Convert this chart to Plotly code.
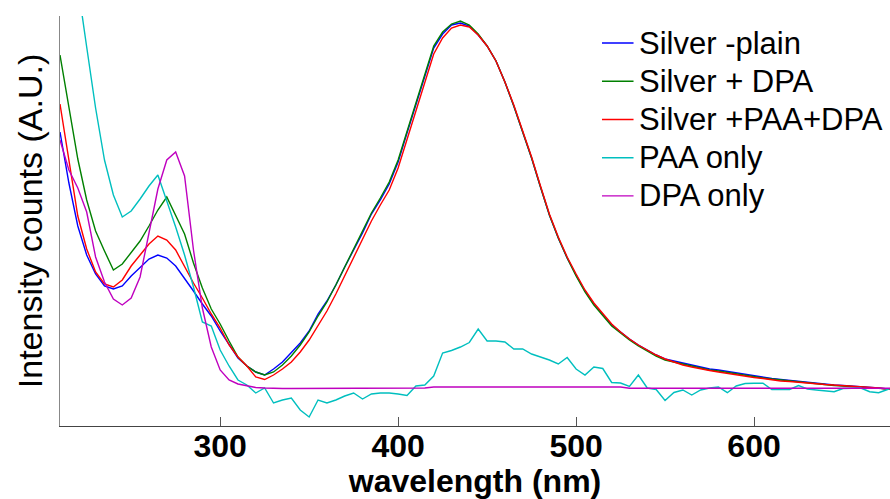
import plotly.graph_objects as go

# Wavelength grid (nm), 5 nm steps
wavelength = list(range(210, 685, 5))

# Intensity counts (A.U.) for each sample
silver_plain = [
    294, 243, 200, 171, 152, 140, 137, 140, 150, 158, 167, 171, 168, 160, 148, 135,
    122, 110, 95, 81, 68, 60, 54, 51, 57, 64, 73, 83, 95, 112, 125, 141,
    159, 176, 193, 212, 226, 242, 264, 293, 322, 350, 378, 392, 401, 403, 400, 391,
    380, 365, 344, 320, 295, 268, 239, 211, 188, 168, 151, 135, 122, 111, 101, 94,
    87, 81, 76, 71, 67, 65, 63, 61, 59, 57, 56, 54.5, 53, 51.5, 50, 48.5,
    47.5, 46.5, 45.5, 44.5, 44, 43, 42, 41, 40.5, 40, 39.5, 39, 38, 37, 36.5,
]
silver_dpa = [
    371, 318, 267, 226, 195, 175, 156, 162, 174, 185, 200, 216, 229, 210, 192, 163,
    138, 117, 102, 85, 69, 60, 54, 51, 54, 61, 70, 81, 94, 110, 124, 141,
    159, 176, 194, 213, 228, 244, 266, 295, 324, 352, 380, 394, 402, 405, 401, 392,
    380, 365, 344, 320, 295, 268, 239, 211, 188, 168, 150, 134, 121, 110, 100, 93,
    86, 80, 75, 70, 66, 64, 62, 60, 58, 56, 55, 53.5, 52, 50.5, 49, 48,
    47, 46, 45, 44, 43, 42, 41, 40.5, 40, 39.5, 39, 38.5, 38, 37, 36.5,
]
silver_paa_dpa = [
    322, 264, 210, 177, 154, 142, 139, 146, 160, 171, 182, 190, 186, 176, 159, 143,
    128, 112, 98, 81, 69, 60, 49, 46.5, 51, 57, 64, 74, 86, 100, 115, 132,
    150, 168, 186, 205, 221, 236, 258, 286, 315, 344, 372, 388, 398, 401, 399, 391,
    380, 365, 344, 321, 296, 269, 240, 212, 189, 169, 152, 136, 123, 112, 102, 94,
    87, 81, 76, 71, 67, 64, 61, 59, 57, 55.5, 54, 52.5, 51, 49.5, 48.5, 47.5,
    46, 45, 44.5, 44, 43, 42.3, 41.5, 41, 40.5, 40, 39.3, 38.7, 38, 37, 36.5,
]
paa_only = [
    581, 510, 441, 379, 318, 266, 231, 209, 215, 227, 240, 251, 226, 199, 171, 139,
    104, 100, 76, 60, 46, 41, 33, 38, 23, 26, 28, 16, 9, 26, 23, 26,
    30, 33, 27, 32, 33, 33, 32, 30.5, 40, 41, 50, 73, 75.5, 79, 83.5, 97,
    85, 85, 84, 77, 77, 72, 69, 66, 62, 68.5, 57, 51, 59, 57.5, 43.5, 43,
    39.5, 51, 38, 36.5, 25.5, 33.5, 36, 31, 36, 38, 39, 33.3, 40, 42.5, 42.7, 42.7,
    36.5, 36.5, 36.5, 40.5, 37, 36, 35, 34.3, 37.5, 38, 38, 34.3, 33.3, 36.5, 40,
]
dpa_only = [
    286, 256, 238, 214, 169, 144, 127, 121, 128, 149, 193, 237, 266, 274, 250, 176,
    118, 79, 56, 46, 42, 40, 38.5, 38, 37.5, 37.5, 37.5, 37.5, 37.5, 37.5, 37.5, 37.5,
    37.5, 37.5, 37.5, 37.5, 37.5, 37.5, 37.5, 37.5, 37.5, 38, 39, 39, 39, 39, 39, 39,
    39, 39, 39, 39, 39, 39, 39, 39, 39, 39, 39, 39, 39, 39, 39, 39,
    37.7, 37.7, 37.7, 37.7, 37.7, 37.7, 37.7, 37.7, 37.7, 37.7, 37.7, 37.7, 37.7, 37.7, 37.7, 37.7,
    37.7, 37.7, 37.7, 37.7, 37.7, 37.7, 37.7, 37.7, 37.7, 37.7, 37.7, 37.7, 37.7, 37.7, 37.7,
]

series = [
    ("Silver -plain", silver_plain, "#0000FF"),
    ("Silver + DPA", silver_dpa, "#008000"),
    ("Silver +PAA+DPA", silver_paa_dpa, "#FF0000"),
    ("PAA only", paa_only, "#00BFBF"),
    ("DPA only", dpa_only, "#BF00BF"),
]

fig = go.Figure()
for name, vals, color in series:
    fig.add_trace(go.Scatter(
        x=wavelength, y=vals, mode="lines", name=name,
        line=dict(color=color, width=1.4),
        showlegend=False,
    ))

# Compact legend in the upper right: short line swatch plus label per series
LEG_X0, LEG_X1, LEG_TEXT_X = 0.653, 0.691, 0.695   # paper fractions
LEG_TOP, LEG_STEP = 0.934, 0.0932
for i, (name, _, color) in enumerate(series):
    yy = LEG_TOP - i * LEG_STEP
    fig.add_shape(type="line", xref="paper", yref="paper",
                  x0=LEG_X0, x1=LEG_X1, y0=yy, y1=yy,
                  line=dict(color=color, width=1.4))
    fig.add_annotation(xref="paper", yref="paper", x=LEG_TEXT_X, y=yy,
                       xanchor="left", yanchor="middle", showarrow=False,
                       text=name, font=dict(size=31, color="black"))

fig.update_layout(
    width=890, height=499,
    margin=dict(l=60, r=0, t=16, b=73),
    paper_bgcolor="white", plot_bgcolor="white",
    font=dict(family="Liberation Sans, Arial, sans-serif", color="black"),
    showlegend=False,
    xaxis=dict(
        range=[210, 676.4],
        tickvals=[300, 400, 500, 600],
        ticks="inside", ticklen=9, tickcolor="#555555", tickwidth=1,
        ticklabelstandoff=-8,
        showline=True, linecolor="#444444", linewidth=1,
        showgrid=False, zeroline=False,
        tickfont=dict(size=32, weight="bold", color="black"),
        title=dict(text="wavelength (nm)", font=dict(size=32, weight="bold", color="black"),
                   standoff=8),
    ),
    yaxis=dict(
        range=[0, 410],
        showticklabels=False, ticks="",
        showline=True, linecolor="#888888", linewidth=1,
        showgrid=False, zeroline=False,
        title=dict(text="Intensity counts (A.U.)", font=dict(size=34, color="black"),
                   standoff=6),
    ),
)

fig.write_html("out.html")
